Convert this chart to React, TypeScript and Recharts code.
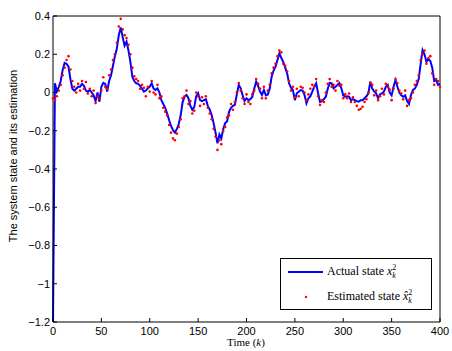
import { ComposedChart, Line, XAxis, YAxis, Legend } from "recharts";

// time steps k = 0, 2, 4, ... 400
const actualState = [
  -1.2, 0.048, 0.005, 0.03, 0.06, 0.118, 0.155, 0.15, 0.135, 0.07,
  0.02, 0.01, 0.02, 0.03, 0.03, 0.045, 0.035, 0.01, 0.004, 0.013,
  0.0, -0.015, -0.045, 0.0, -0.048, 0.03, 0.05, 0.045, 0.005, 0.06,
  0.09, 0.14, 0.19, 0.23, 0.3, 0.34, 0.29, 0.245, 0.266, 0.22,
  0.16, 0.083, 0.06, 0.048, 0.045, 0.035, 0.02, 0.004, 0.01, 0.022,
  0.03, 0.048, 0.02, 0.013, 0.022, 0.0, -0.04, -0.06, -0.08, -0.11,
  -0.145, -0.175, -0.196, -0.21, -0.19, -0.165, -0.118, -0.05, -0.02, -0.013,
  -0.03, -0.07, -0.09, -0.075, -0.02, -0.004, -0.04, -0.045, -0.04, -0.035,
  -0.07, -0.09, -0.118, -0.16, -0.21, -0.266, -0.22, -0.24, -0.19, -0.16,
  -0.15, -0.1, -0.08, -0.07, -0.065, -0.01, 0.04, 0.022, -0.015, -0.045,
  -0.03, -0.04, -0.035, -0.022, 0.02, 0.057, 0.035, 0.005, -0.013, 0.013,
  -0.015, -0.01, 0.02, 0.083, 0.115, 0.135, 0.17, 0.205, 0.18, 0.16,
  0.13, 0.1, 0.048, 0.025, 0.013, -0.04, -0.004, 0.004, 0.013, 0.01,
  -0.013, -0.057, -0.03, -0.02, 0.005, 0.03, 0.048, -0.004, -0.05, -0.045,
  -0.035, -0.022, 0.02, 0.05, 0.048, 0.022, 0.03, 0.04, 0.05, 0.022,
  -0.015, -0.022, -0.02, -0.022, -0.04, -0.035, -0.04, -0.045, -0.048, -0.04,
  -0.04, -0.03, -0.02, -0.004, 0.057, 0.02, 0.005, -0.004, -0.03, -0.01,
  -0.004, 0.004, 0.03, 0.04, 0.0, -0.015, 0.03, 0.065, 0.03, 0.0,
  -0.015, -0.022, -0.015, -0.045, -0.06, -0.013, 0.013, 0.02, 0.04, 0.07,
  0.15, 0.222, 0.2, 0.16, 0.175, 0.165, 0.13, 0.06, 0.065, 0.04,
  0.045,
];

const estimatedState = [
  -0.03, -0.04, -0.02, 0.01, 0.04, 0.09, 0.13, 0.17, 0.19, 0.12,
  0.06, 0.03, 0.0, 0.045, 0.01, 0.06, 0.02, 0.055, -0.005, 0.02,
  -0.02, 0.01, -0.055, -0.02, -0.03, 0.01, 0.08, 0.03, 0.02, 0.09,
  0.12, 0.17, 0.2, 0.26, 0.345, 0.385, 0.33, 0.3, 0.285, 0.25,
  0.2, 0.13, 0.085, 0.07, 0.06, 0.02, 0.04, 0.025, -0.02, 0.03,
  0.005, 0.06, 0.0, -0.01, 0.04, -0.03, -0.02, -0.08, -0.1, -0.12,
  -0.17, -0.21, -0.24, -0.25, -0.215, -0.18, -0.14, -0.03, -0.02, 0.01,
  -0.06, -0.045, -0.11, -0.095, 0.0, -0.02, -0.07, -0.025, -0.06, -0.02,
  -0.08, -0.11, -0.14, -0.19, -0.23, -0.3, -0.25, -0.27, -0.2, -0.18,
  -0.13, -0.12, -0.06, -0.09, -0.05, 0.0, 0.05, 0.01, -0.03, -0.06,
  -0.01, -0.05, -0.06, -0.01, 0.01, 0.07, 0.045, 0.02, -0.03, 0.03,
  -0.03, 0.01, 0.04, 0.1, 0.13, 0.15, 0.19, 0.22, 0.21, 0.15,
  0.14, 0.11, 0.06, 0.01, 0.03, -0.025, 0.02, -0.02, 0.03, 0.025,
  0.0, -0.04, -0.01, 0.02, 0.04, 0.03, 0.07, -0.02, -0.065, -0.04,
  -0.05, 0.0, 0.045, 0.07, 0.03, 0.04, 0.01, 0.06, 0.035, 0.04,
  -0.03, -0.01, -0.03, -0.005, -0.05, -0.025, -0.05, -0.07, -0.09, -0.085,
  -0.075, -0.05, -0.035, 0.0, 0.05, 0.04, -0.015, 0.01, -0.04, -0.02,
  0.02, -0.01, 0.045, 0.03, 0.015, -0.04, 0.02, 0.07, 0.05, 0.01,
  -0.005, -0.035, 0.01, -0.07, -0.04, -0.03, 0.0, 0.04, 0.06, 0.09,
  0.17, 0.2, 0.22, 0.15, 0.18, 0.19, 0.1, 0.04, 0.07, 0.06,
  0.03,
];

const xTicks = [0, 50, 100, 150, 200, 250, 300, 350, 400];
const yTicks = [-1.2, -1, -0.8, -0.6, -0.4, -0.2, 0, 0.2, 0.4];

const data = actualState.map((v, i) => ({
  k: i * 2,
  actual: v,
  est: estimatedState[i],
}));

const sans = "'Liberation Sans', Arial, sans-serif";
const serif = "'Liberation Serif', 'DejaVu Serif', serif";
const tickFont = { fontFamily: sans, fontSize: 11, fill: "#000" };

const fmtY = (v: number) => {
  const r = Math.round(v * 10) / 10;
  return r < 0 ? "\u2212" + String(-r) : String(r);
};

function Xk({ hat }: { hat?: boolean }) {
  return (
    <span style={{ fontStyle: "italic" }}>
      {hat ? "x\u0302" : "x"}
      <span
        style={{
          display: "inline-flex",
          flexDirection: "column",
          fontSize: 8,
          lineHeight: "8px",
          verticalAlign: "middle",
          fontStyle: "normal",
        }}
      >
        <span>2</span>
        <span style={{ fontStyle: "italic" }}>k</span>
      </span>
    </span>
  );
}

function LegendBox() {
  return (
    <div
      style={{
        width: 152,
        height: 52,
        border: "1px solid #000",
        background: "#fff",
        fontFamily: serif,
        fontSize: 12,
        color: "#000",
        boxSizing: "border-box",
      }}
    >
      <div style={{ display: "flex", alignItems: "center", height: 26 }}>
        <svg width={46} height={10}>
          <line x1={7} y1={5} x2={42} y2={5} stroke="#0000ff" strokeWidth={2} />
        </svg>
        <span>
          Actual state <Xk />
        </span>
      </div>
      <div style={{ display: "flex", alignItems: "center", height: 24 }}>
        <svg width={46} height={10}>
          <circle cx={25} cy={5} r={1.2} fill="#ff0000" />
        </svg>
        <span>
          Estimated state <Xk hat />
        </span>
      </div>
    </div>
  );
}

export default function App() {
  return (
    <div style={{ position: "absolute", left: 0, top: 0, background: "#fff" }}>
      <ComposedChart
        width={452}
        height={351}
        data={data}
        margin={{ top: 15, right: 11, left: 0, bottom: 0 }}
      >
        <XAxis
          xAxisId="bottom"
          dataKey="k"
          type="number"
          domain={[0, 400]}
          ticks={xTicks}
          height={29}
          tick={tickFont}
          tickSize={-4}
          tickMargin={9}
          stroke="#000"
          label={() => (
            <text x={246} y={346} textAnchor="middle" fontFamily={serif} fontSize={11} fill="#000">
              Time (<tspan fontStyle="italic">k</tspan>)
            </text>
          )}
        />
        <XAxis
          xAxisId="top"
          orientation="top"
          dataKey="k"
          type="number"
          domain={[0, 400]}
          ticks={xTicks}
          height={1}
          tick={false}
          tickSize={-4}
          stroke="#000"
        />
        <YAxis
          yAxisId="left"
          type="number"
          domain={[-1.2, 0.4]}
          ticks={yTicks}
          width={53}
          tick={tickFont}
          tickFormatter={fmtY}
          tickSize={-4}
          tickMargin={7}
          stroke="#000"
          allowDataOverflow
          label={() => (
            <text
              x={17}
              y={156}
              transform="rotate(-90 17 156)"
              textAnchor="middle"
              fontFamily={sans}
              fontSize={11}
              fill="#000"
            >
              The system state and its estimation
            </text>
          )}
        />
        <YAxis
          yAxisId="right"
          orientation="right"
          type="number"
          domain={[-1.2, 0.4]}
          ticks={yTicks}
          width={1}
          tick={false}
          tickSize={-4}
          stroke="#000"
          allowDataOverflow
        />
        <Legend
          layout="vertical"
          align="center"
          verticalAlign="middle"
          wrapperStyle={{ position: "absolute", left: 280, top: 258, width: 152, height: 52 }}
          content={() => <LegendBox />}
        />
        {/* invisible copy so the top/right box axes get drawn */}
        <Line
          xAxisId="top"
          yAxisId="right"
          dataKey="actual"
          stroke="none"
          dot={false}
          legendType="none"
          isAnimationActive={false}
        />
        <Line
          xAxisId="bottom"
          yAxisId="left"
          dataKey="actual"
          type="linear"
          stroke="#0000ff"
          strokeWidth={2}
          dot={false}
          isAnimationActive={false}
        />
        <Line
          xAxisId="bottom"
          yAxisId="left"
          dataKey="est"
          type="linear"
          stroke="none"
          dot={{ r: 1.3, fill: "#ff0000", stroke: "none" }}
          isAnimationActive={false}
        />
      </ComposedChart>
    </div>
  );
}
